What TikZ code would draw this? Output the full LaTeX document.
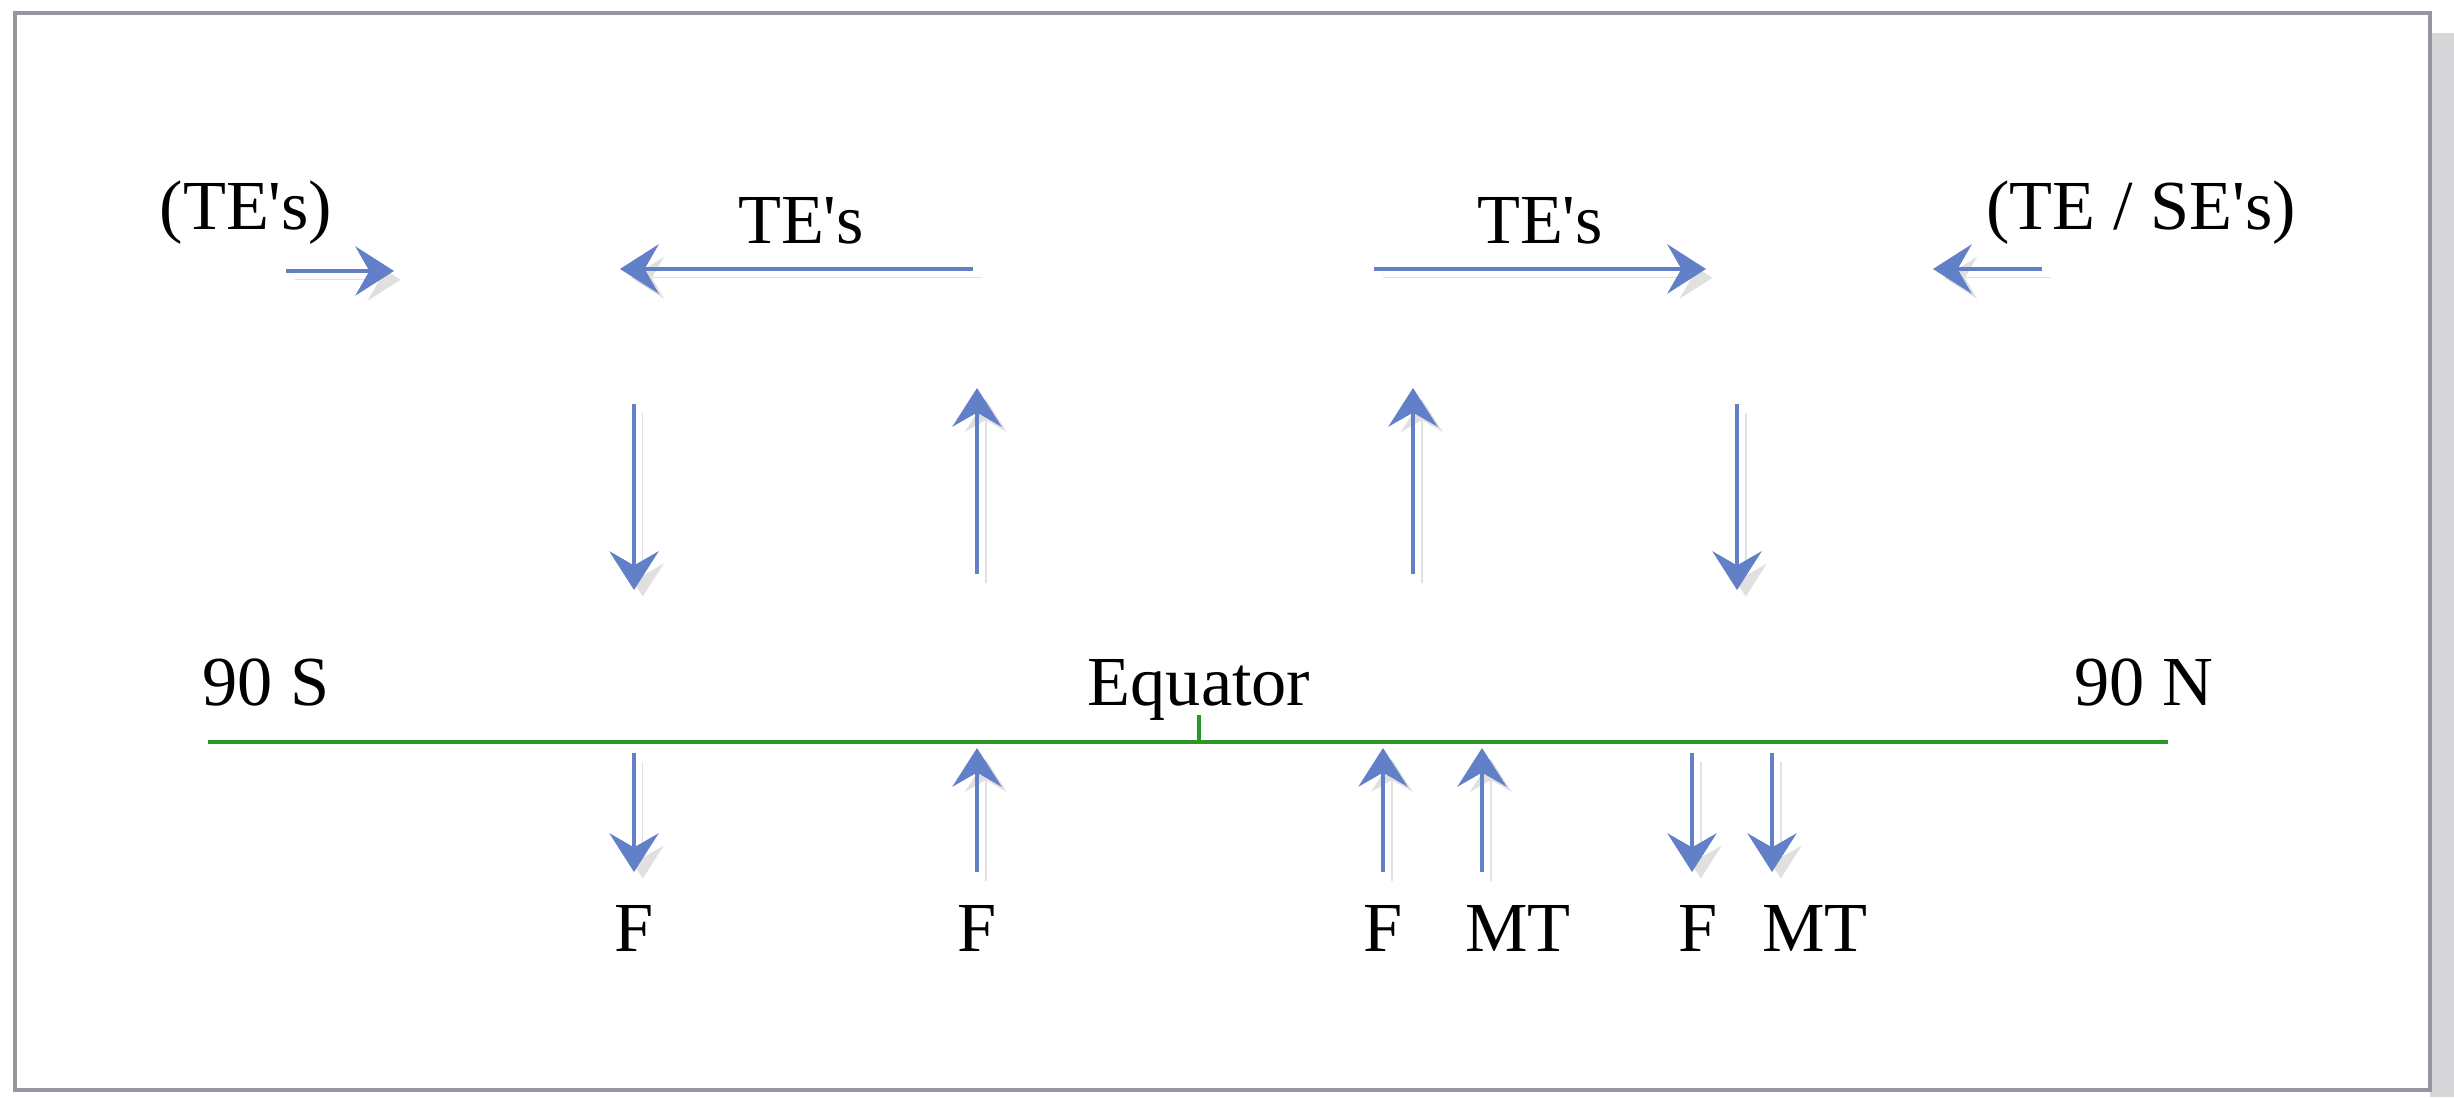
\documentclass[tikz,border=0pt]{standalone}
\usepackage{fontspec}
\setmainfont{Liberation Serif}
\usetikzlibrary{arrows.meta,positioning}
\definecolor{flowblue}{RGB}{98,128,200}
\definecolor{equatorgreen}{RGB}{40,150,40}
\definecolor{framegray}{RGB}{150,150,158}
\definecolor{shadegray}{RGB}{214,214,216}
\newcommand{\apos}{\textquotesingle}

\begin{document}
\begin{tikzpicture}[
        lbl/.style={font=\fontsize{20}{24}\selectfont, inner sep=0pt, text=black},
        flow/.style={draw=flowblue, line width=1.1pt,
            -{Stealth[length=11pt, width=14pt, inset=4pt]},
            preaction={draw=black!12, transform canvas={shift={(2.5pt,-2.5pt)}}}}
    ]
        \useasboundingbox (0,0) rectangle (24.54,10.97);
        \fill[shadegray] (24.3,0) rectangle (24.54,10.64);
        \draw[framegray, line width=1.4pt, fill=white] (0.15,0.07) rectangle (24.30,10.84);

        % upper circulation
        \node[lbl, anchor=base] (tesouth) at (2.46,8.67) {(TE\apos s)};
        \node[lbl, anchor=base] (teleft) at (8.01,8.53) {TE\apos s};
        \node[lbl, anchor=base] (teright) at (15.40,8.53) {TE\apos s};
        \node[lbl, anchor=base] (tenorth) at (21.41,8.67) {(TE / SE\apos s)};

        \coordinate (a1) at (2.86,8.26);  \coordinate (b1) at (3.94,8.26);
        \coordinate (a2) at (9.73,8.28);  \coordinate (b2) at (6.20,8.28);
        \coordinate (a3) at (13.74,8.28); \coordinate (b3) at (17.06,8.28);
        \coordinate (a4) at (20.42,8.28); \coordinate (b4) at (19.33,8.28);
        \draw[flow] (a1) -- (b1);
        \draw[flow] (a2) -- (b2);
        \draw[flow] (a3) -- (b3);
        \draw[flow] (a4) -- (b4);

        \coordinate (c1) at (6.34,6.93);  \coordinate (d1) at (6.34,5.07);
        \coordinate (c2) at (9.77,5.23);  \coordinate (d2) at (9.77,7.09);
        \coordinate (c3) at (14.13,5.23); \coordinate (d3) at (14.13,7.09);
        \coordinate (c4) at (17.37,6.93); \coordinate (d4) at (17.37,5.07);
        \draw[flow] (c1) -- (d1);
        \draw[flow] (c2) -- (d2);
        \draw[flow] (c3) -- (d3);
        \draw[flow] (c4) -- (d4);

        % equator line
        \node[lbl, anchor=base] (south) at (2.66,3.91) {90 S};
        \node[lbl, anchor=base] (equator) at (11.99,3.91) {Equator};
        \node[lbl, anchor=base] (north) at (21.44,3.91) {90 N};
        \coordinate (ls) at (2.08,3.55);
        \coordinate (ln) at (21.68,3.55);
        \coordinate (eq) at (11.99,3.55);
        \draw[equatorgreen, line width=1.2pt] (ls) -- (ln);
        \draw[equatorgreen, line width=1.2pt] (eq) -- ++(0,0.27);

        % surface fluxes
        \coordinate (e1) at (6.34,3.44);  \coordinate (f1) at (6.34,2.25);
        \coordinate (f2) at (9.77,2.25);  \coordinate (e2) at (9.77,3.49);
        \coordinate (f3) at (13.83,2.25); \coordinate (e3) at (13.83,3.49);
        \coordinate (f4) at (14.82,2.25); \coordinate (e4) at (14.82,3.49);
        \coordinate (e5) at (16.92,3.44); \coordinate (f5) at (16.92,2.25);
        \coordinate (e6) at (17.72,3.44); \coordinate (f6) at (17.72,2.25);
        \draw[flow] (e1) -- (f1);
        \draw[flow] (f2) -- (e2);
        \draw[flow] (f3) -- (e3);
        \draw[flow] (f4) -- (e4);
        \draw[flow] (e5) -- (f5);
        \draw[flow] (e6) -- (f6);

        \node[lbl, below=0.33cm of f1] (fl1) {F};
        \node[lbl, below=0.33cm of f2] (fl2) {F};
        \node[lbl, below=0.33cm of f3] (fl3) {F};
        \node[lbl, below=0.33cm of f4, xshift=0.36cm] (mt1) {MT};
        \node[lbl, below=0.33cm of f5, xshift=0.06cm] (fl4) {F};
        \node[lbl, below=0.33cm of f6, xshift=0.43cm] (mt2) {MT};
    \end{tikzpicture}
\end{document}
